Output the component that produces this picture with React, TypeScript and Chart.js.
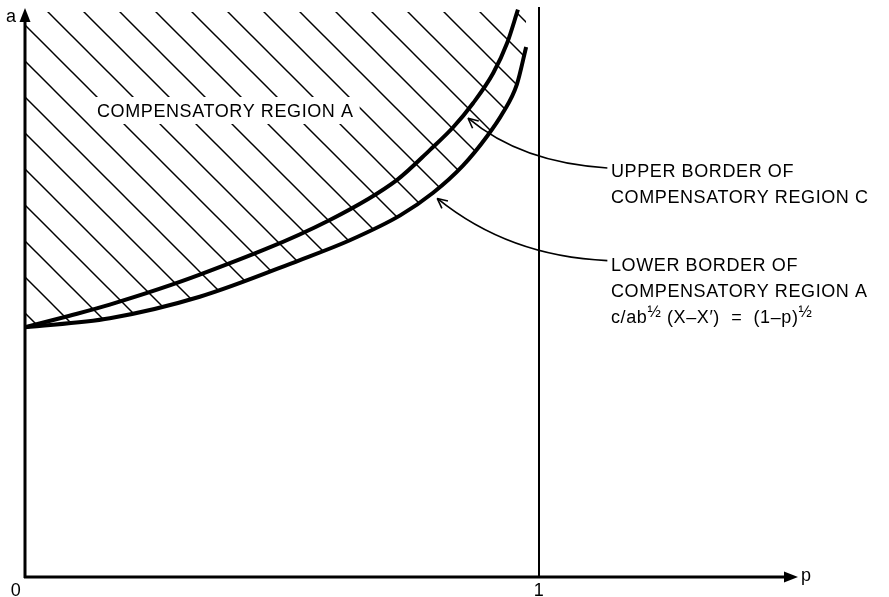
import React, { useEffect, useRef } from "react";
import { Chart, registerables } from "chart.js";

Chart.register(...registerables);

// ---- data (p, a) ----
const UPPER_P = [0, 0.085, 0.165, 0.34, 0.593, 0.724, 0.788, 0.833, 0.872, 0.911, 0.938, 0.959];
const UPPER_A = [4.42, 4.62, 4.82, 5.35, 6.32, 7.03, 7.56, 7.96, 8.39, 8.92, 9.45, 10.04];
const LOWER_P = [0, 0.165, 0.34, 0.535, 0.632, 0.73, 0.794, 0.852, 0.899, 0.93, 0.957, 0.975];
const LOWER_A = [4.42, 4.58, 4.96, 5.61, 5.96, 6.4, 6.8, 7.28, 7.8, 8.22, 8.72, 9.38];
const X_TICKS = ["0", "1"];
const X_TICK_VALUES = [0, 1];
const X_LABEL = "p";
const Y_LABEL = "a";
const REGION_LABEL = "COMPENSATORY REGION A";
const UPPER_NOTE = ["UPPER BORDER OF", "COMPENSATORY REGION C"];
const LOWER_NOTE = ["LOWER BORDER OF", "COMPENSATORY REGION A"];
const P_MAX = 1.5;
const A_MAX = 10;

const FONT = '18px "Liberation Sans", Arial, sans-serif';
const SMALL_FONT = '16px "Liberation Sans", Arial, sans-serif';

function makePattern(): CanvasPattern | string {
  const c = document.createElement("canvas");
  c.width = 36;
  c.height = 36;
  const g = c.getContext("2d");
  if (!g) return "transparent";
  g.strokeStyle = "#000";
  g.lineWidth = 1.5;
  for (const o of [-36, 0, 36]) {
    g.beginPath();
    g.moveTo(o - 2, -2);
    g.lineTo(o + 38, 38);
    g.stroke();
  }
  return g.createPattern(c, "repeat") || "transparent";
}

function drawArrowCurve(
  ctx: CanvasRenderingContext2D,
  tip: [number, number],
  c1: [number, number],
  c2: [number, number],
  end: [number, number]
) {
  ctx.save();
  ctx.strokeStyle = "#000";
  ctx.lineWidth = 1.6;
  ctx.beginPath();
  ctx.moveTo(tip[0], tip[1]);
  ctx.bezierCurveTo(c1[0], c1[1], c2[0], c2[1], end[0], end[1]);
  ctx.stroke();
  const ang = Math.atan2(c1[1] - tip[1], c1[0] - tip[0]);
  const L = 11;
  for (const s of [-0.45, 0.45]) {
    ctx.beginPath();
    ctx.moveTo(tip[0], tip[1]);
    ctx.lineTo(tip[0] + L * Math.cos(ang + s), tip[1] + L * Math.sin(ang + s));
    ctx.stroke();
  }
  ctx.restore();
}

const decorPlugin = {
  id: "decor",
  afterDatasetsDraw(chart: any) {
    const ctx: CanvasRenderingContext2D = chart.ctx;
    const xs = chart.scales.x;
    const ys = chart.scales.y;
    const X = (v: number) => xs.getPixelForValue(v);
    const Y = (v: number) => ys.getPixelForValue(v);
    const x0 = X(0);
    const y0 = Y(0);
    ctx.save();
    ctx.fillStyle = "#000";
    ctx.strokeStyle = "#000";
    // y axis
    ctx.lineWidth = 3;
    ctx.beginPath();
    ctx.moveTo(x0, y0 + 1);
    ctx.lineTo(x0, 18);
    ctx.stroke();
    ctx.beginPath();
    ctx.moveTo(x0, 8);
    ctx.lineTo(x0 - 5.5, 22);
    ctx.lineTo(x0 + 5.5, 22);
    ctx.closePath();
    ctx.fill();
    // x axis
    const xe = X(P_MAX);
    ctx.beginPath();
    ctx.moveTo(x0 - 1, y0);
    ctx.lineTo(xe - 8, y0);
    ctx.stroke();
    ctx.beginPath();
    ctx.moveTo(xe + 2, y0);
    ctx.lineTo(xe - 12, y0 - 5.5);
    ctx.lineTo(xe - 12, y0 + 5.5);
    ctx.closePath();
    ctx.fill();

    ctx.font = FONT;
    (ctx as any).letterSpacing = "0.6px";
    ctx.textBaseline = "alphabetic";
    ctx.textAlign = "left";
    ctx.fillText(X_LABEL, xe + 5, y0 + 4);
    ctx.fillText(Y_LABEL, 6, 22);
    ctx.textAlign = "center";
    X_TICKS.forEach((t, i) => {
      const px = X(X_TICK_VALUES[i]);
      ctx.fillText(t, i === 0 ? px - 9 : px, y0 + 19);
    });

    // region label with white box breaking the hatch
    ctx.textAlign = "left";
    const tx = 97;
    const tyBase = 117;
    const w = ctx.measureText(REGION_LABEL).width;
    ctx.fillStyle = "#fff";
    ctx.fillRect(tx - 4, tyBase - 20, w + 10, 27);
    ctx.fillStyle = "#000";
    ctx.fillText(REGION_LABEL, tx, tyBase);

    // annotations
    drawArrowCurve(ctx, [X(0.862), Y(8.12)], [X(0.93), Y(7.6)], [X(1.02), Y(7.3)], [X(1.133), Y(7.24)]);
    drawArrowCurve(ctx, [X(0.802), Y(6.7)], [X(0.89), Y(6.05)], [X(1.0), Y(5.65)], [X(1.133), Y(5.6)]);

    const lx = 611;
    ctx.fillText(UPPER_NOTE[0], lx, 177);
    ctx.fillText(UPPER_NOTE[1], lx, 203);
    ctx.fillText(LOWER_NOTE[0], lx, 271);
    ctx.fillText(LOWER_NOTE[1], lx, 297);

    // formula
    let cx = lx;
    const fb = 323;
    const part = (s: string, font: string, dy: number) => {
      ctx.font = font;
      ctx.fillText(s, cx, fb + dy);
      cx += ctx.measureText(s).width;
    };
    part("c/ab", FONT, 0);
    part("½", SMALL_FONT, -6);
    part(" (X\u2013X\u2032)  =  (1\u2013p)", FONT, 0);
    part("½", SMALL_FONT, -6);
    ctx.restore();
  },
};

export default function App() {
  const ref = useRef<HTMLCanvasElement | null>(null);
  useEffect(() => {
    document.body.style.margin = "0";
    const canvas = ref.current;
    if (!canvas) return;
    const pattern = makePattern();
    const upper = UPPER_P.map((p, i) => ({ x: p, y: UPPER_A[i] }));
    const lower = LOWER_P.map((p, i) => ({ x: p, y: LOWER_A[i] }));
    const chart = new Chart(canvas, {
      type: "scatter",
      data: {
        datasets: [
          {
            data: lower,
            showLine: true,
            borderColor: "#000",
            borderWidth: 4,
            pointRadius: 0,
            fill: "end",
            backgroundColor: pattern as any,
            cubicInterpolationMode: "monotone",
            clip: false as any,
          },
          {
            data: upper,
            showLine: true,
            borderColor: "#000",
            borderWidth: 4,
            pointRadius: 0,
            fill: false,
            cubicInterpolationMode: "monotone",
            clip: false as any,
          },
          {
            data: [
              { x: 1, y: 0 },
              { x: 1, y: 10.09 },
            ],
            showLine: true,
            borderColor: "#000",
            borderWidth: 2,
            pointRadius: 0,
            fill: false,
            clip: false as any,
          },
        ],
      },
      options: {
        animation: false,
        responsive: false,
        events: [],
        layout: { padding: { left: 25, top: 12, right: 889 - 25 - 514 * P_MAX, bottom: 20 } },
        plugins: { legend: { display: false }, tooltip: { enabled: false } },
        scales: {
          x: { type: "linear", min: 0, max: P_MAX, display: false },
          y: { type: "linear", min: 0, max: A_MAX, display: false },
        },
      },
      plugins: [decorPlugin],
    });
    return () => chart.destroy();
  }, []);
  return (
    <div style={{ width: 889, height: 597, background: "#fff" }}>
      <canvas ref={ref} width={889} height={597} style={{ display: "block" }} />
    </div>
  );
}
